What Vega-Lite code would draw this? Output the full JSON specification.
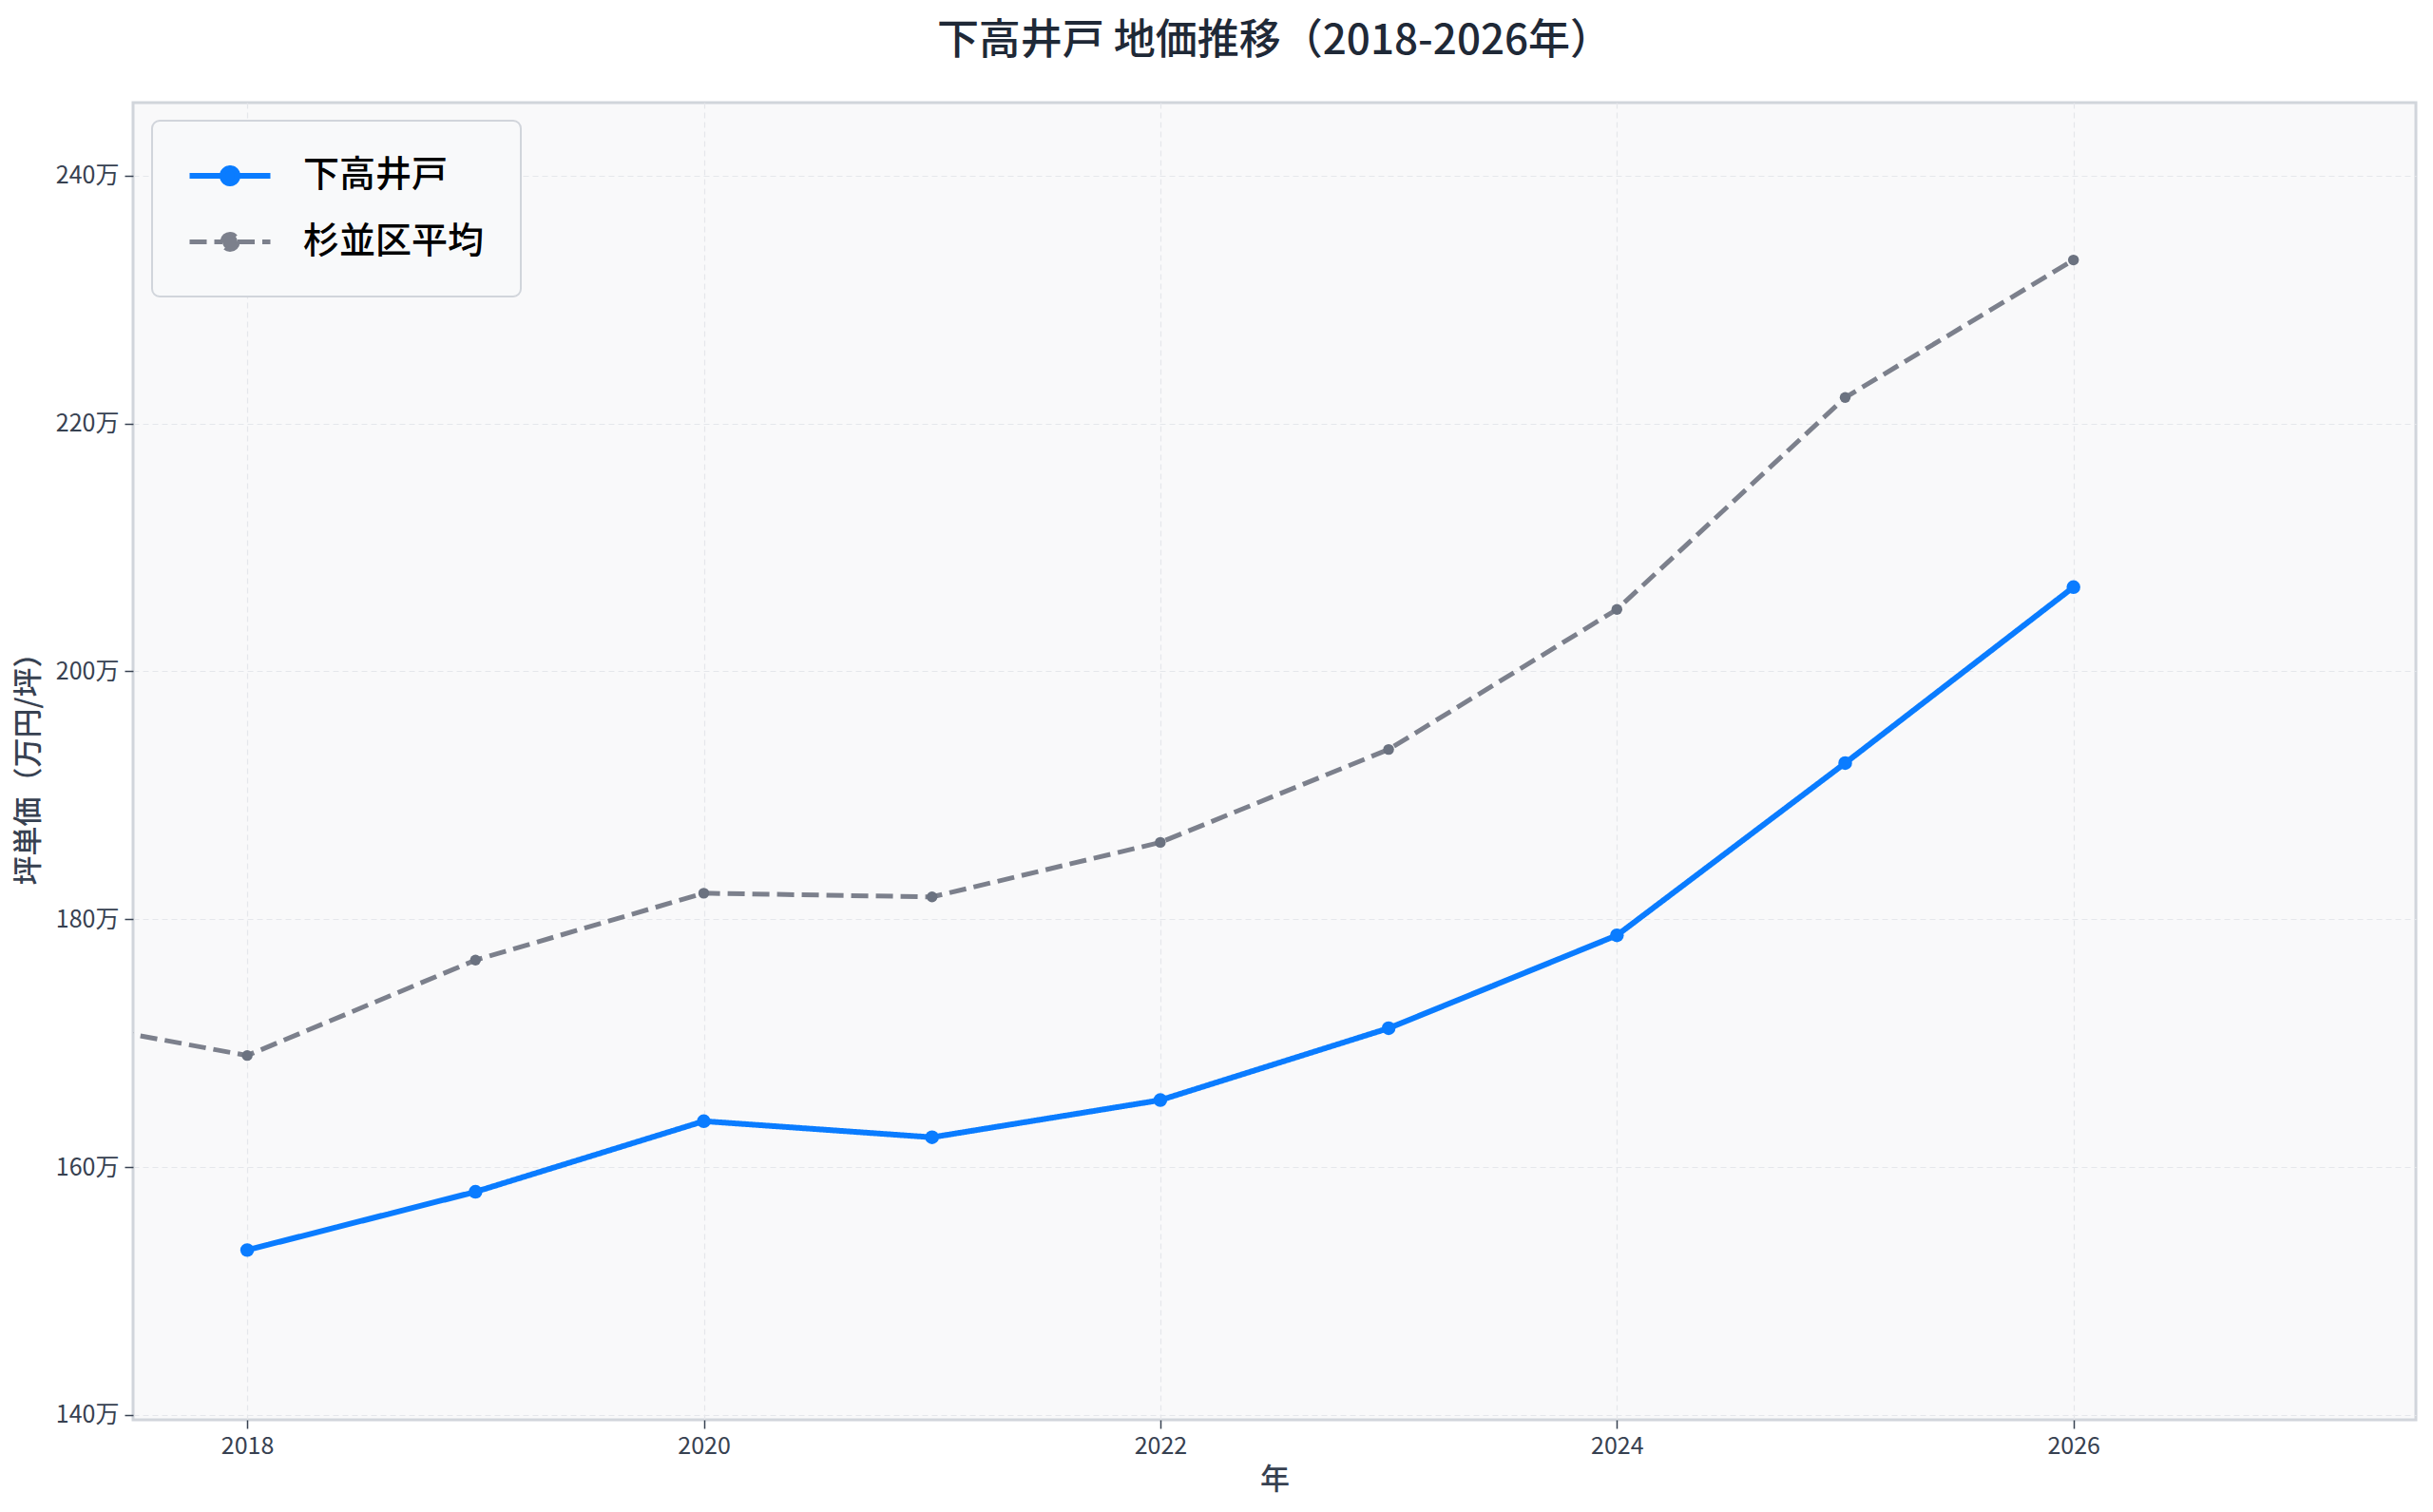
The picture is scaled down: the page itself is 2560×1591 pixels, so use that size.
{
  "$schema": "https://vega.github.io/schema/vega-lite/v6.json",
  "autosize": "none",
  "padding": {"left": 140, "top": 108, "right": 18, "bottom": 97},
  "width": 2402,
  "height": 1386,
  "background": "white",
  "title": {
    "text": "下高井戸 地価推移（2018-2026年）",
    "font": "Noto Sans CJK JP",
    "fontSize": 44,
    "fontWeight": 500,
    "color": "#1f2937",
    "anchor": "middle",
    "offset": 42
  },
  "data": {
    "values": [
      {"year": 2018, "area": "下高井戸", "price": 153.3},
      {"year": 2019, "area": "下高井戸", "price": 158.0},
      {"year": 2020, "area": "下高井戸", "price": 163.7},
      {"year": 2021, "area": "下高井戸", "price": 162.4},
      {"year": 2022, "area": "下高井戸", "price": 165.4},
      {"year": 2023, "area": "下高井戸", "price": 171.2},
      {"year": 2024, "area": "下高井戸", "price": 178.7},
      {"year": 2025, "area": "下高井戸", "price": 192.6},
      {"year": 2026, "area": "下高井戸", "price": 206.8},
      {"year": 2017, "area": "杉並区平均", "price": 172.4},
      {"year": 2018, "area": "杉並区平均", "price": 169.0},
      {"year": 2019, "area": "杉並区平均", "price": 176.7},
      {"year": 2020, "area": "杉並区平均", "price": 182.1},
      {"year": 2021, "area": "杉並区平均", "price": 181.8},
      {"year": 2022, "area": "杉並区平均", "price": 186.2},
      {"year": 2023, "area": "杉並区平均", "price": 193.7},
      {"year": 2024, "area": "杉並区平均", "price": 205.0},
      {"year": 2025, "area": "杉並区平均", "price": 222.1},
      {"year": 2026, "area": "杉並区平均", "price": 233.2}
    ]
  },
  "encoding": {
    "x": {
      "field": "year",
      "type": "quantitative",
      "title": "年",
      "scale": {"domain": [2017.5, 2027.5], "nice": false, "zero": false},
      "axis": {"values": [2018, 2020, 2022, 2024, 2026], "format": "d"}
    },
    "y": {
      "field": "price",
      "type": "quantitative",
      "title": "坪単価（万円/坪）",
      "scale": {"domain": [139.6, 245.9], "nice": false, "zero": false},
      "axis": {"values": [140, 160, 180, 200, 220, 240], "labelExpr": "datum.value + '万'"}
    }
  },
  "layer": [
    {
      "mark": {"type": "line", "clip": true},
      "encoding": {
        "color": {
          "field": "area",
          "type": "nominal",
          "scale": {"domain": ["下高井戸", "杉並区平均"], "range": ["#0a7cff", "#7c808c"]},
          "legend": {
            "title": null,
            "orient": "none",
            "legendX": 20,
            "legendY": 19,
            "encode": {
              "symbols": {
                "update": {
                  "fill": {"scale": "color", "field": "value"},
                  "size": {"value": 1156}
                }
              }
            }
          }
        },
        "strokeDash": {
          "field": "area",
          "type": "nominal",
          "scale": {"domain": ["下高井戸", "杉並区平均"], "range": [[1, 0], [18, 8]]},
          "legend": {"title": null}
        },
        "strokeWidth": {
          "field": "area",
          "type": "nominal",
          "scale": {"domain": ["下高井戸", "杉並区平均"], "range": [6, 5]},
          "legend": null
        }
      }
    },
    {
      "transform": [{"filter": "datum.area === '下高井戸'"}],
      "mark": {"type": "point", "filled": true, "opacity": 1, "clip": true, "fill": "#0a7cff", "size": 210}
    },
    {
      "transform": [{"filter": "datum.area === '杉並区平均'"}],
      "mark": {"type": "point", "filled": true, "opacity": 1, "clip": true, "fill": "#6b7280", "size": 130}
    }
  ],
  "config": {
    "font": "Noto Sans CJK JP",
    "view": {"fill": "#f9f9fa", "stroke": "#d1d5db", "strokeWidth": 3},
    "axis": {
      "domain": false,
      "grid": true,
      "gridColor": "#e5e7eb",
      "gridDash": [6, 4],
      "gridWidth": 1.2,
      "tickColor": "#374151",
      "tickSize": 9,
      "tickWidth": 1.5,
      "labelFont": "Noto Sans CJK JP",
      "labelFontSize": 25,
      "labelColor": "#374151",
      "titleFont": "Noto Sans CJK JP",
      "titleFontSize": 31,
      "titleFontWeight": 500,
      "titleColor": "#374151"
    },
    "axisX": {"labelPadding": 6, "titlePadding": 8},
    "axisY": {"labelPadding": 6, "titlePadding": 12},
    "legend": {
      "symbolType": "M-2.5,0H-0.47M0.47,0H2.5M0.47,0A0.47,0.47,0,1,1,-0.47,0A0.47,0.47,0,1,1,0.47,0",
      "symbolSize": 1156,
      "symbolStrokeWidth": 5,
      "symbolOffset": 24,
      "labelOffset": 57,
      "labelLimit": 600,
      "labelFont": "Noto Sans CJK JP",
      "labelFontSize": 38,
      "labelFontWeight": 500,
      "labelColor": "#000000",
      "rowPadding": 30,
      "padding": 38,
      "fillColor": "#f8f9fa",
      "strokeColor": "#d1d5db",
      "strokeWidth": 2,
      "cornerRadius": 8
    }
  }
}
